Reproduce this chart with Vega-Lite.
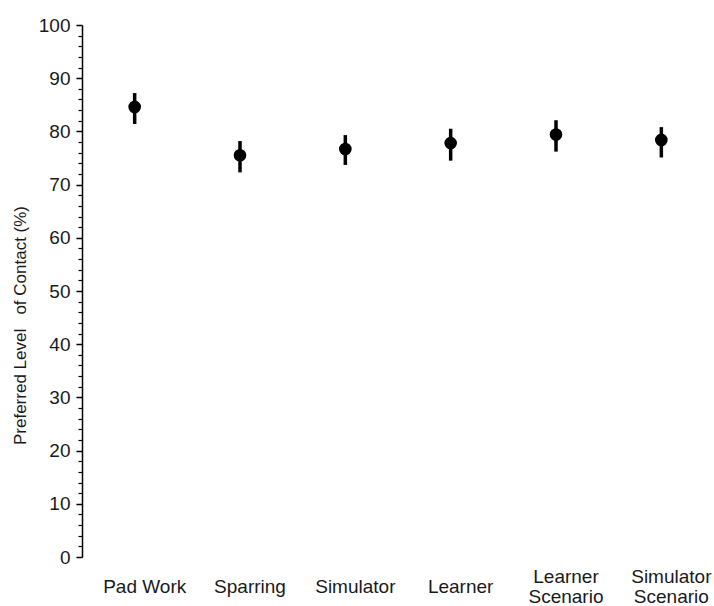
{
  "$schema": "https://vega.github.io/schema/vega-lite/v6.json",
  "width": 632,
  "height": 532,
  "autosize": {"type": "none"},
  "padding": {"left": 82, "top": 25, "right": 0, "bottom": 49},
  "background": "white",
  "config": {
    "view": {"stroke": null},
    "font": "Liberation Sans",
    "axis": {"labelFont": "Liberation Sans", "titleFont": "Liberation Sans", "labelColor": "#1a1a1a", "titleColor": "#1a1a1a", "grid": false}
  },
  "data": {
    "values": [
      {"task": "Pad Work", "mean": 84.6, "lo": 81.4, "hi": 87.2},
      {"task": "Sparring", "mean": 75.5, "lo": 72.3, "hi": 78.2},
      {"task": "Simulator", "mean": 76.7, "lo": 73.7, "hi": 79.3},
      {"task": "Learner", "mean": 77.8, "lo": 74.5, "hi": 80.5},
      {"task": "Learner Scenario", "mean": 79.4, "lo": 76.2, "hi": 82.1},
      {"task": "Simulator Scenario", "mean": 78.4, "lo": 75.1, "hi": 80.8}
    ]
  },
  "encoding": {
    "x": {
      "field": "task", "type": "nominal", "sort": null,
      "scale": {"type": "band", "paddingInner": 0, "paddingOuter": 0},
      "axis": {
        "title": null, "domain": false, "ticks": false, "labelAngle": 0,
        "labelFontSize": 19, "labelBaseline": "middle", "labelLineHeight": 20, "labelOffset": 10,
        "labelPadding": {"condition": {"test": "indexof(datum.value, 'Scenario') > 0", "value": 19}, "value": 29},
        "labelExpr": "indexof(datum.value, 'Scenario') > 0 ? split(datum.value, ' ') : datum.value"
      }
    }
  },
  "layer": [
    {
      "mark": {"type": "rule", "strokeWidth": 3.5, "color": "black"},
      "encoding": {
        "y": {
          "field": "lo", "type": "quantitative",
          "scale": {"domain": [0, 100], "nice": false, "zero": true},
          "axis": {
            "title": "Preferred Level\u00a0\u00a0 of Contact (%)", "titleFontSize": 17, "titleFontWeight": "normal",
            "titleX": -62, "titleY": 300, "titleBaseline": "middle", "titleAngle": -90,
            "values": [0, 10, 20, 30, 40, 50, 60, 70, 80, 90, 100],
            "labelFontSize": 19, "labelPadding": 6, "tickSize": 6, "tickWidth": 1.5,
            "domainColor": "black", "domainWidth": 1.5, "tickColor": "black", "orient": "left"
          }
        },
        "y2": {"field": "hi"}
      }
    },
    {
      "mark": {"type": "point", "filled": true, "size": 160, "color": "black", "opacity": 1},
      "encoding": {
        "y": {
          "field": "mean", "type": "quantitative",
          "axis": {
            "title": null, "labels": false, "domain": false, "orient": "left",
            "values": [2, 4, 6, 8, 12, 14, 16, 18, 22, 24, 26, 28, 32, 34, 36, 38, 42, 44, 46, 48, 52, 54, 56, 58, 62, 64, 66, 68, 72, 74, 76, 78, 82, 84, 86, 88, 92, 94, 96, 98],
            "tickSize": 4, "tickWidth": 1.2, "tickColor": "black"
          }
        }
      }
    }
  ],
  "resolve": {"axis": {"y": "independent"}, "scale": {"y": "shared"}}
}
